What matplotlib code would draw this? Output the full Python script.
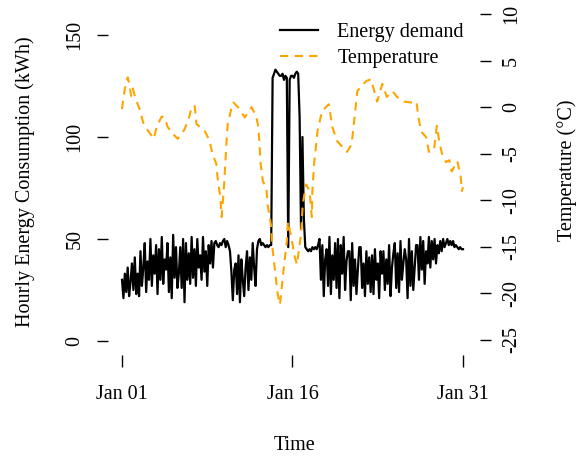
import numpy as np
import matplotlib
matplotlib.use('Agg')
import matplotlib.pyplot as plt

plt.rc('font', family='Liberation Serif', size=14.5)
plt.rc('axes', linewidth=1)

# Data: hourly energy demand (read at 3 h steps) and temperature, January
energy_step_days = 1 / 8
energy = [
    30, 21, 33, 24, 36, 22, 29, 38,
    25, 41, 23, 33, 22, 44, 27, 36,
    48, 24, 39, 30, 50, 27, 42, 33,
    47, 23, 45, 30, 51, 28, 40, 35,
    48, 24, 41, 21, 52, 31, 46, 26,
    33, 46, 26, 50, 19, 48, 30, 43,
    28, 51, 31, 45, 27, 50, 36, 42,
    30, 51, 34, 44, 27, 47, 38, 49,
    36, 48, 49, 47, 46, 48, 47, 49,
    50, 46, 49, 47, 44, 34, 20, 35,
    38, 23, 42, 19, 40, 30, 22, 36,
    44, 25, 41, 30, 48, 36, 27, 45,
    49, 50, 47, 48, 47, 46, 47, 46,
    47, 47, 129, 131, 133, 132, 131, 130,
    130, 131, 128, 130, 129, 46, 128, 130,
    130, 129, 131, 132, 131, 110, 55, 100,
    60, 46, 45, 44, 45, 44, 46, 45,
    46, 45, 47, 50, 30, 47, 22, 40,
    45, 27, 51, 23, 42, 30, 48, 26,
    50, 21, 47, 33, 51, 25, 39, 44,
    44, 20, 48, 27, 40, 23, 35, 46,
    46, 26, 38, 22, 44, 28, 41, 24,
    42, 23, 45, 30, 38, 21, 44, 33,
    44, 25, 40, 28, 47, 22, 36, 43,
    48, 26, 43, 24, 49, 30, 38, 45,
    40, 21, 50, 27, 44, 25, 36, 47,
    47, 30, 51, 35, 49, 28, 44, 38,
    51, 36, 49, 40, 50, 38, 47, 43,
    49, 44, 50, 46, 48, 50, 47, 49,
    47, 49, 46, 47, 46, 45, 46, 45,
    45,
]
energy_days = np.arange(len(energy)) * energy_step_days

temp_days = [0.0, 0.25, 0.5, 0.65, 0.8, 0.95, 1.2, 1.6, 1.85, 2.1, 2.45, 2.8,
             3.07, 3.5, 3.8, 4.0, 4.5, 4.9, 5.5, 5.9, 6.15, 6.4, 6.55, 7.3,
             7.7, 7.95, 8.3, 8.4, 8.65, 8.77, 9.0, 9.2, 9.3, 9.65, 9.8, 10.2,
             10.8, 11.4, 11.8, 12.0, 12.2, 12.4, 12.7, 12.8, 13.1, 13.2, 13.4,
             13.7, 13.9, 14.2, 14.5, 14.6, 14.9, 15.2, 15.4, 15.6, 15.75, 15.9,
             16.2, 16.5, 16.7, 16.75, 16.9, 17.2, 17.6, 18.2, 18.5, 18.9, 19.4,
             19.8, 20.2, 20.4, 20.7, 21.0, 21.5, 21.9, 22.2, 22.45, 22.9, 23.3,
             23.8, 24.2, 24.8, 25.4, 25.9, 26.05, 26.3, 26.75, 27.0, 27.45,
             27.7, 27.9, 28.15, 28.5, 28.8, 29.0, 29.5, 29.8, 29.9, 30.0]
temperature = [-0.2, 2.0, 3.2, 2.5, 1.2, 2.0, 0.9, -0.4, -1.6, -2.2, -2.8, -3.4,
               -2.0, -1.0, -1.2, -2.1, -2.9, -3.4, -2.4, -1.1, 0.1, 0.1, -1.8, -2.6,
               -3.6, -5.0, -6.1, -7.5, -9.7, -11.8, -8.0, -3.6, -1.8, 0.0, 0.5, 0.0,
               -1.1, 0.0, -1.0, -2.1, -6.1, -8.0, -8.6, -10.4, -12.6, -14.7, -16.9,
               -20.1, -21.2, -17.6, -14.4, -12.3, -14.0, -16.1, -16.9, -15.0, -13.7, -10.4,
               -8.3, -9.0, -11.8, -9.0, -6.1, -2.6, -0.4, 0.3, -2.1, -3.6, -4.3,
               -4.8, -4.0, -1.8, 1.7, 2.2, 2.8, 3.0, 1.7, 0.6, 2.5, 1.1,
               1.7, 1.1, 0.6, 0.5, 0.6, -0.8, -2.6, -3.2, -4.8, -4.6,
               -2.0, -3.6, -5.0, -5.9, -5.7, -6.9, -5.8, -7.5, -9.0, -8.6]

xtick_pos = [0, 15, 30]
xtick_labels = ['Jan 01', 'Jan 16', 'Jan 31']
energy_ticks = [0, 50, 100, 150]
temp_ticks = [-25, -20, -15, -10, -5, 0, 5, 10]

W, H = 587, 457
fig = plt.figure(figsize=(W / 100, H / 100), dpi=100)
ax = fig.add_axes([108 / W, 1 - 355 / H, (480 - 108) / W, (355 - 10) / H])
ax2 = ax.twinx()

l1, = ax.plot(energy_days, energy, color='black', lw=1.6, label='Energy demand')
l2, = ax2.plot(temp_days, temperature, color='orange', lw=1.5, ls=(0, (4, 3)),
               label='Temperature')

ax.set_xlim(-1.232, 31.496)
ax.set_ylim(-6.863, 162.25)
ax2.set_ylim(-26.61, 10.43)

for a in (ax, ax2):
    for s in a.spines.values():
        s.set_visible(False)

ax.set_xticks(xtick_pos)
ax.set_xticklabels(xtick_labels)
ax.set_yticks(energy_ticks)
ax.set_yticklabels([str(v) for v in energy_ticks], rotation=90, va='center')
ax2.set_yticks(temp_ticks)
ax2.set_yticklabels([str(v) for v in temp_ticks], rotation=90, va='center')

ax.tick_params(axis='x', direction='out', length=8.5, width=1, pad=13)
ax.tick_params(axis='y', direction='out', length=8, width=1, pad=9)
ax2.tick_params(axis='y', direction='out', length=8, width=1, pad=8)

fig.text(295 / W, 1 - 445 / H, 'Time', ha='center', va='center')
fig.text(25 / W, 1 - 182 / H, 'Hourly Energy Consumption (kWh)', rotation=90,
         ha='center', va='center')
fig.text(567 / W, 1 - 170 / H, 'Temperature (°C)', rotation=90,
         ha='center', va='center')

fig.legend(handles=[l1, l2], loc='upper left', bbox_to_anchor=(280 / W, 1 - 23 / H),
           frameon=False, borderpad=0, borderaxespad=0, handlelength=1.9,
           handletextpad=0.95, labelspacing=0.32)

fig.savefig('out.png', dpi=100)
